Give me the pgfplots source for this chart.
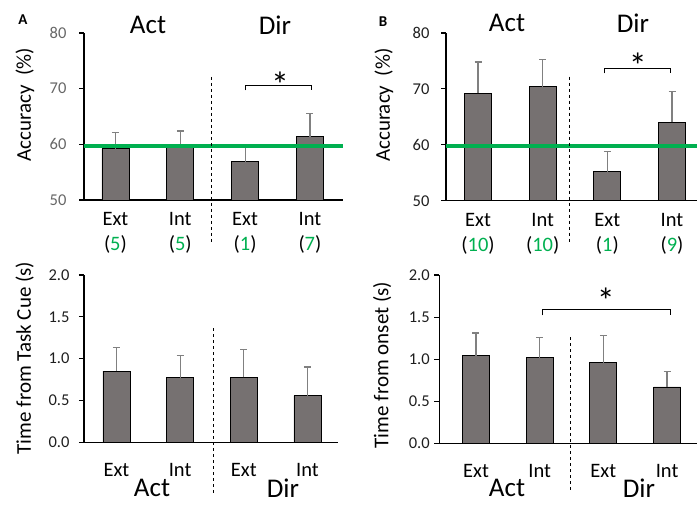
\documentclass[border=0pt]{standalone}
\usepackage{fontspec}
\setmainfont{Carlito}
\usepackage{pgfplots}
\pgfplotsset{compat=1.18}
\definecolor{barfill}{RGB}{118,113,113}
\definecolor{chance}{RGB}{0,176,80}
\definecolor{errgray}{RGB}{128,128,128}
\definecolor{ticktxt}{RGB}{30,30,30}

\pgfplotsset{
  panel/.style={
    scale only axis, axis x line*=bottom, axis y line*=left,
    axis line style={line width=1.3pt, black},
    clip mode=individual,
    xtick={1,2,3,4},
    xtick style={draw=none},
    ytick style={line width=1.1pt, black},
    tick align=outside, major tick length=5pt,
    yticklabel style={font=\fontsize{16.5}{16.5}\selectfont, text=ticktxt},
    xticklabel style={font=\fontsize{20.5}{25}\selectfont, align=center},
    ylabel style={font=\fontsize{21}{21}\selectfont, anchor=center},
  },
  bars/.style={ybar, bar width=27pt, fill=barfill, draw=black, line width=0.8pt,
    error bars/.cd, y dir=plus, y explicit,
    error bar style={errgray, line width=1.2pt},
    error mark options={rotate=90, errgray, mark size=3.5pt, line width=1.2pt}},
  chanceline/.style={chance, line width=3.2pt, no marks},
}
\tikzset{sigstar/.style={font=\fontsize{36}{36}\selectfont, yshift=-9pt}}
\newcommand{\g}[1]{\textcolor{chance}{#1}}

\begin{document}
\begin{tikzpicture}
\useasboundingbox (0,0) rectangle (697pt,-504pt);

% ---- A, accuracy
\begin{axis}[panel, at={(84pt,-200pt)}, anchor=south west,
    width=259pt, height=167pt,
    xmin=0.515, xmax=4.51, ymin=50, ymax=80,
    ytick={50,60,70,80}, yticklabels={50,60,70,80},
    yticklabel style={text=black!60, xshift=-9pt},
    xticklabels={{Ext\\(\g{5})},{Int\\(\g{5})},{Ext\\(\g{1})},{Int\\(\g{7})}},
    xticklabel style={yshift=-4pt},
    ylabel={Accuracy\ \ (\%)},
    ylabel style={at={(axis description cs:-0.228,0.57)}}]
\addplot[bars] coordinates {(1,59.2) +- (0,2.9) (2,59.6) +- (0,2.8) (3,56.9) +- (0,2.6) (4,61.4) +- (0,4.2)};
\addplot[chanceline] coordinates {(0.515,59.7) (4.51,59.7)};
\draw[dashed, line width=0.8pt] (axis cs:2.485,72.1) -- (axis cs:2.485,42.3);
\draw[line width=1pt] (axis cs:3,69.7) -- (axis cs:3,70.5) -- (axis cs:4.03,70.5) -- (axis cs:4.03,69.7);
\node[sigstar] at (axis cs:3.54,72.4) {*};
\end{axis}

% ---- B, accuracy
\begin{axis}[panel, at={(446pt,-200.7pt)}, anchor=south west,
    width=251pt, height=167.7pt,
    xmin=0.505, xmax=4.386, ymin=50, ymax=80,
    ytick={50,60,70,80}, yticklabels={50,60,70,80},
    yticklabel style={xshift=-8pt},
    xticklabels={{Ext\\(\g{10})},{Int\\(\g{10})},{Ext\\(\g{1})},{Int\\(\g{9})}},
    xticklabel style={yshift=-4pt},
    ylabel={Accuracy\ \ (\%)},
    ylabel style={at={(axis description cs:-0.247,0.57)}}]
\addplot[bars] coordinates {(1,69.2) +- (0,5.6) (2,70.4) +- (0,4.9) (3,55.2) +- (0,3.6) (4,64.0) +- (0,5.5)};
\addplot[chanceline] coordinates {(0.505,59.8) (4.386,59.8)};
\draw[dashed, line width=0.8pt] (axis cs:2.42,72.2) -- (axis cs:2.42,42.4);
\draw[line width=1pt] (axis cs:2.95,72.8) -- (axis cs:2.95,73.7) -- (axis cs:3.97,73.7) -- (axis cs:3.97,72.8);
\node[sigstar] at (axis cs:3.47,75.75) {*};
\end{axis}

% ---- A, time from task cue
\begin{axis}[panel, at={(84pt,-442.3pt)}, anchor=south west,
    width=254pt, height=167.3pt,
    xmin=0.49, xmax=4.48, ymin=0, ymax=2,
    ytick={0,0.5,1,1.5,2}, yticklabels={0.0,0.5,1.0,1.5,2.0},
    yticklabel style={xshift=-6pt},
    xticklabels={Ext,Int,Ext,Int},
    xticklabel style={yshift=-13pt},
    ylabel={Time from Task Cue (s)},
    ylabel style={at={(axis description cs:-0.234,0.504)}}]
\addplot[bars] coordinates {(1,0.852) +- (0,0.283) (2,0.772) +- (0,0.263) (3,0.777) +- (0,0.333) (4,0.557) +- (0,0.343)};
\draw[dashed, line width=0.8pt] (axis cs:2.53,1.366) -- (axis cs:2.53,-0.63);
\end{axis}

% ---- B, time from onset
\begin{axis}[panel, at={(439.3pt,-443.3pt)}, anchor=south west,
    width=257.7pt, height=168.3pt,
    xmin=0.424, xmax=4.47, ymin=0, ymax=2,
    ytick={0,0.5,1,1.5,2}, yticklabels={0.0,0.5,1.0,1.5,2.0},
    yticklabel style={xshift=-1pt},
    xticklabels={Ext,Int,Ext,Int},
    xticklabel style={yshift=-13pt},
    ylabel={Time from onset (s)},
    ylabel style={at={(axis description cs:-0.222,0.465)}}]
\addplot[bars] coordinates {(1,1.04) +- (0,0.27) (2,1.017) +- (0,0.238) (3,0.958) +- (0,0.322) (4,0.67) +- (0,0.185)};
\draw[dashed, line width=0.8pt] (axis cs:2.487,1.26) -- (axis cs:2.487,-0.59);
\draw[line width=1pt] (axis cs:2.05,1.52) -- (axis cs:2.05,1.59) -- (axis cs:4.05,1.59) -- (axis cs:4.05,1.52);
\node[sigstar] at (axis cs:3.04,1.80) {*};
\end{axis}

% group titles and panel letters
\begin{scope}[every node/.style={font=\fontsize{27}{27}\selectfont, inner sep=0pt}]
\node at (148pt,-25pt) {Act};
\node at (275pt,-25pt) {Dir};
\node at (507pt,-23pt) {Act};
\node at (633pt,-23pt) {Dir};
\node at (152pt,-488pt) {Act};
\node at (283pt,-488pt) {Dir};
\node at (507pt,-488pt) {Act};
\node at (639pt,-488pt) {Dir};
\end{scope}
\node[font=\bfseries\fontsize{15}{15}\selectfont, inner sep=0pt] at (23pt,-20pt) {A};
\node[font=\bfseries\fontsize{15}{15}\selectfont, inner sep=0pt] at (383pt,-22pt) {B};
\end{tikzpicture}
\end{document}
